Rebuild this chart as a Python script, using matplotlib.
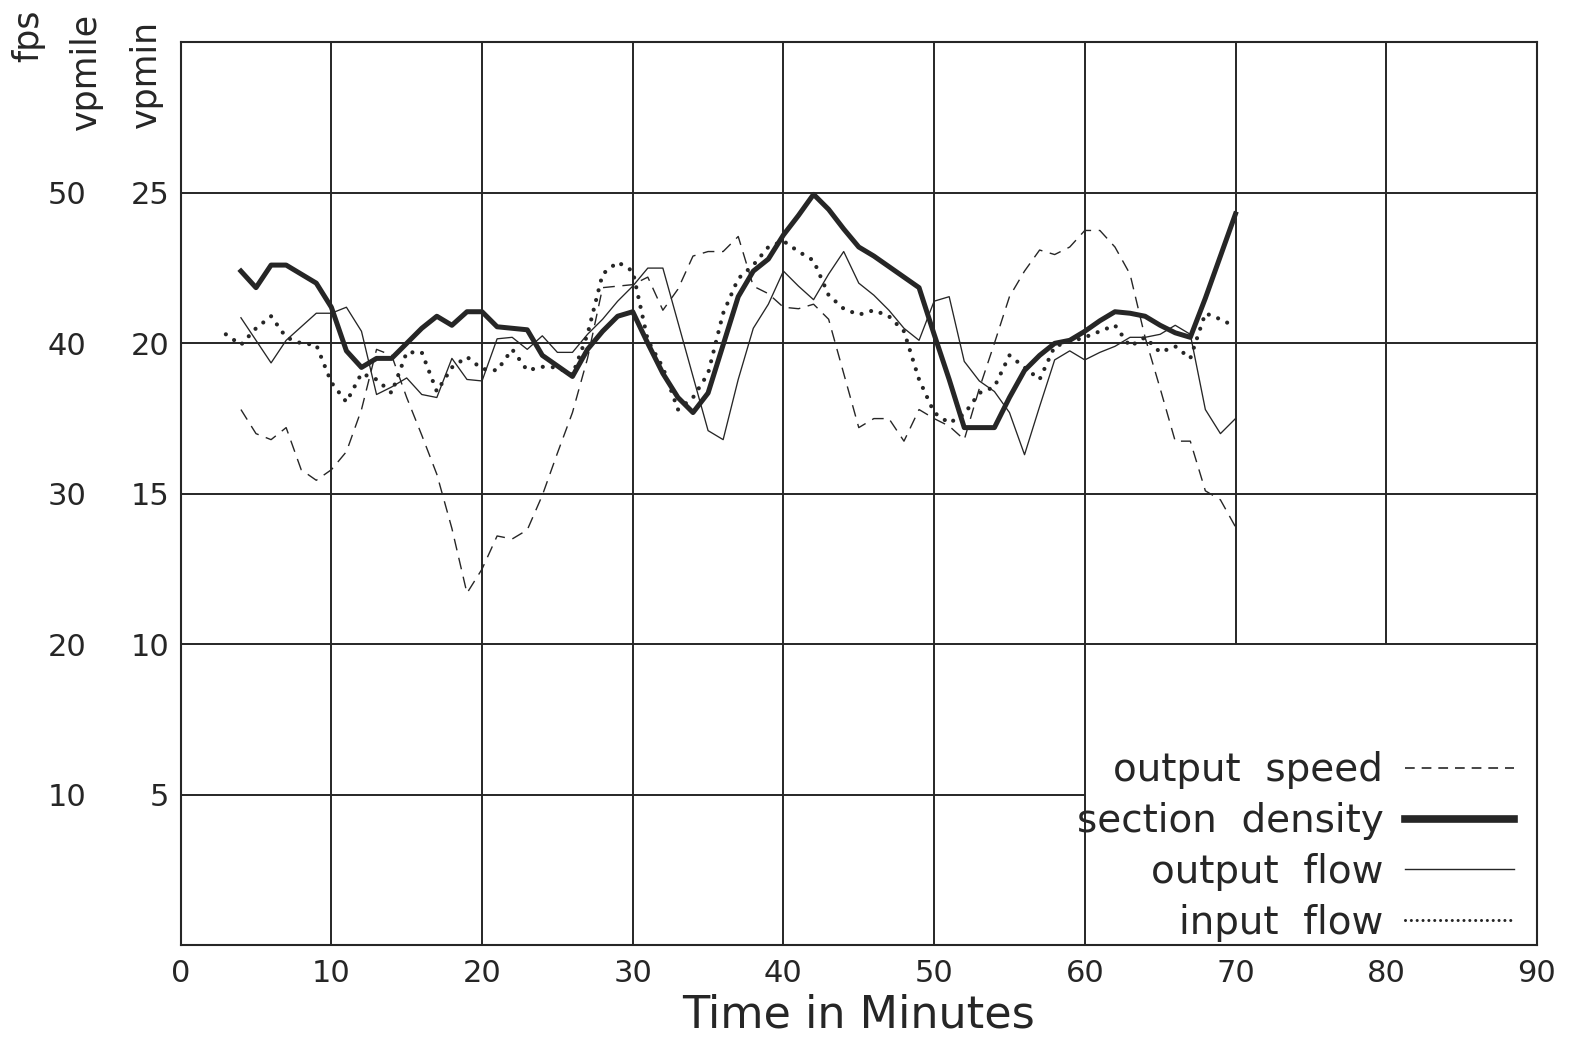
import matplotlib
matplotlib.use("Agg")
import matplotlib.pyplot as plt
from matplotlib.lines import Line2D

plt.rcParams["font.family"] = ["DejaVu Sans"]
plt.rcParams["lines.scale_dashes"] = False

INK = "#262626"

# time axis (minutes) -- input flow starts one minute earlier
minutes = list(range(4, 71))
input_minutes = list(range(3, 71))

# left "fps / vpmile" scale
output_speed_fps = [
    35.6, 34.0, 33.6, 34.4, 31.6, 30.9, 31.6, 32.8, 35.6, 39.6,
    39.2, 36.4, 33.9, 31.3, 27.7, 23.4, 25.0, 27.2, 27.0, 27.6,
    29.9, 32.7, 35.4, 39.0, 43.7, 43.8, 43.9, 44.4, 42.2, 43.6,
    45.8, 46.1, 46.1, 47.1, 43.8, 43.3, 42.4, 42.3, 42.6, 41.6,
    38.0, 34.4, 35.0, 35.0, 33.5, 35.6, 35.0, 34.5, 33.6, 37.0,
    40.0, 43.1, 44.8, 46.2, 45.9, 46.4, 47.5, 47.5, 46.4, 44.6,
    40.4, 37.0, 33.5, 33.5, 30.2, 29.6, 27.8,
]
section_density_vpmile = [
    44.8, 43.7, 45.2, 45.2, 44.6, 44.0, 42.4, 39.5, 38.4, 39.0,
    39.0, 40.0, 41.0, 41.8, 41.2, 42.1, 42.1, 41.1, 41.0, 40.9,
    39.2, 38.5, 37.8, 39.6, 40.8, 41.8, 42.1, 40.0, 38.0, 36.4,
    35.4, 36.7, 39.9, 43.1, 44.8, 45.6, 47.2, 48.5, 49.9, 48.9,
    47.6, 46.4, 45.8, 45.1, 44.4, 43.7, 40.6, 37.6, 34.4, 34.4,
    34.4, 36.4, 38.2, 39.2, 40.0, 40.2, 40.8, 41.5, 42.1, 42.0,
    41.8, 41.2, 40.7, 40.4, 43.0, 45.8, 48.6,
]

# right-hand "vpmin" scale
output_flow_vpmin = [
    20.85, 20.1, 19.35, 20.1, 20.55, 21.0, 21.0, 21.2, 20.4, 18.3,
    18.55, 18.85, 18.3, 18.2, 19.5, 18.8, 18.75, 20.15, 20.2, 19.8,
    20.25, 19.7, 19.7, 20.3, 20.8, 21.4, 21.9, 22.5, 22.5, 20.7,
    18.9, 17.1, 16.8, 18.8, 20.5, 21.3, 22.4, 21.9, 21.45, 22.3,
    23.05, 22.0, 21.6, 21.1, 20.5, 20.1, 21.4, 21.55, 19.4, 18.75,
    18.4, 17.7, 16.3, 17.9, 19.45, 19.75, 19.45, 19.7, 19.9, 20.2,
    20.2, 20.3, 20.6, 20.3, 17.8, 17.0, 17.5,
]
input_flow_vpmin = [
    20.3, 19.95, 20.5, 20.9, 20.2, 20.0, 19.95, 18.7, 18.05, 19.0,
    18.8, 18.35, 19.7, 19.7, 18.4, 19.2, 19.55, 19.15, 19.1, 19.8,
    19.1, 19.22, 19.2, 18.95, 20.3, 22.3, 22.7, 22.4, 20.1, 19.2,
    17.8, 18.2, 19.0, 21.0, 22.15, 22.6, 23.2, 23.4, 23.05, 22.75,
    21.6, 21.15, 20.95, 21.1, 20.9, 20.4, 18.8, 17.7, 17.35, 17.65,
    18.35, 18.55, 19.6, 19.2, 18.8, 19.9, 20.05, 20.2, 20.4, 20.6,
    19.9, 20.2, 19.7, 19.9, 19.5, 21.0, 20.8, 20.55,
]

x_ticks = [0, 10, 20, 30, 40, 50, 60, 70, 80, 90]
vpmin_ticks = [5, 10, 15, 20, 25]
fps_ticks = [10, 20, 30, 40, 50]
legend_labels = ["output  speed", "section  density", "output  flow", "input  flow"]

fig = plt.figure(figsize=(15.75, 10.38), dpi=100)
ax = fig.add_axes([0.1147, 0.0893, 0.8611, 0.8699])
ax.set_xlim(0, 90)
ax.set_ylim(0, 30)

# hand-ruled grid: the lower-right block is left open for the key
grid_kw = dict(color=INK, linewidth=1.4, zorder=1)
ax.vlines([10, 20, 30, 40, 50, 60], 0, 30, **grid_kw)
ax.vlines([70, 80], 10, 30, **grid_kw)
ax.hlines([10, 15, 20, 25], 0, 90, **grid_kw)
ax.hlines([5], 0, 60, **grid_kw)
for s in ax.spines.values():
    s.set_color(INK)
    s.set_linewidth(1.5)

ax.plot(minutes, output_flow_vpmin, color=INK, linewidth=0.95, zorder=3)
ax.plot(input_minutes, input_flow_vpmin, color=INK, linewidth=3.0,
        linestyle=(0, (0.01, 7.2)), dash_capstyle="round", zorder=4)

ax.set_xticks(x_ticks)
ax.set_xticklabels([str(t) for t in x_ticks])
ax.set_yticks(vpmin_ticks)
ax.set_yticklabels([str(t) for t in vpmin_ticks])
ax.tick_params(axis="both", length=0, labelsize=22, colors=INK)
ax.tick_params(axis="x", pad=10)
ax.tick_params(axis="y", pad=8)
ax.set_xlabel("Time in Minutes", fontsize=32, color=INK, labelpad=4)

ax2 = ax.twinx()
ax2.set_ylim(0, 60)
ax2.yaxis.set_ticks_position("left")
ax2.set_yticks(fps_ticks)
ax2.set_yticklabels([str(t) for t in fps_ticks])
ax2.tick_params(axis="y", length=0, labelsize=22, colors=INK, pad=68)
for s in ax2.spines.values():
    s.set_visible(False)

ax2.plot(minutes, output_speed_fps, color=INK, linewidth=1.0,
         linestyle=(0, (8.5, 5.5)), zorder=3)
ax2.plot(minutes, section_density_vpmile, color=INK, linewidth=3.6,
         solid_joinstyle="round", zorder=5)

handles = [
    Line2D([], [], color=INK, linewidth=1.2, linestyle=(0, (7, 5))),
    Line2D([], [], color=INK, linewidth=5.5),
    Line2D([], [], color=INK, linewidth=1.0),
    Line2D([], [], color=INK, linewidth=2.2, linestyle=(0, (0.01, 4.2)),
           dash_capstyle="round"),
]
ax2.legend(handles, legend_labels, loc="lower right", bbox_to_anchor=(1.0, -0.022),
           frameon=False, markerfirst=False, fontsize=28, handlelength=2.8,
           handletextpad=0.55, labelspacing=0.33, borderpad=0.1,
           labelcolor=INK)

head_kw = dict(rotation=90, ha="center", va="bottom", fontsize=25, color=INK)
fig.text(28 / 1575, 1 - 62 / 1038, "fps", **head_kw)
fig.text(86 / 1575, 1 - 130 / 1038, "vpmile", **head_kw)
fig.text(146 / 1575, 1 - 128 / 1038, "vpmin", **head_kw)

fig.savefig("out.png", dpi=100)
